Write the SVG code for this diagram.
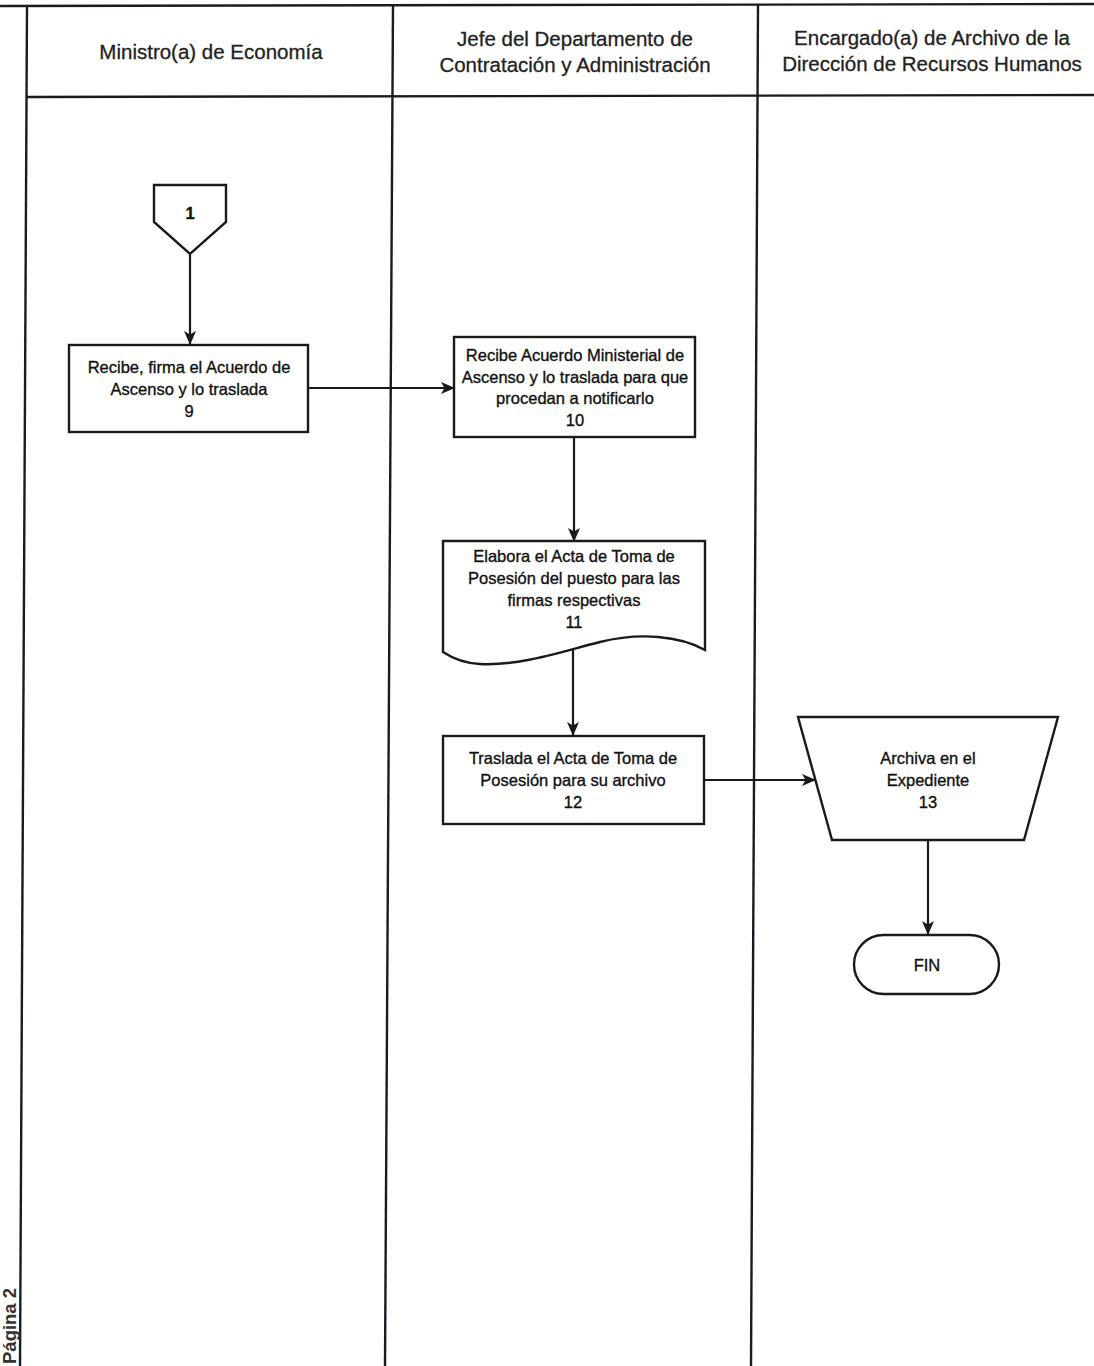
<svg xmlns="http://www.w3.org/2000/svg" width="1094" height="1366" viewBox="0 0 1094 1366">
  <style>
    .frame { stroke: #1a1a22; stroke-width: 2.4; fill: none; }
    .shape { stroke: #1a1a1a; stroke-width: 2.4; fill: #ffffff; }
    .edge { stroke: #1a1a1a; stroke-width: 2.2; fill: none; marker-end: url(#arrow); }
    .hdr { font-family: "Liberation Sans", Arial, sans-serif; font-size: 20.5px; fill: #222; stroke: #222; stroke-width: 0.3; text-anchor: middle; }
    .lbl { font-family: "Liberation Sans", Arial, sans-serif; font-size: 16.5px; fill: #111; stroke: #111; stroke-width: 0.35; text-anchor: middle; }
  </style>
  <defs>
    <marker id="arrow" viewBox="0 0 14 12" refX="13" refY="6" markerWidth="14" markerHeight="12" markerUnits="userSpaceOnUse" orient="auto">
      <path d="M0,0 L14,6 L0,12 L3.5,6 Z" fill="#1a1a1a"/>
    </marker>
  </defs>

  <rect width="1094" height="1366" fill="#ffffff"/>

  <!-- swimlane frame -->
  <g id="lanes">
    <line class="frame" x1="0" y1="6" x2="1094" y2="4"/>
    <line class="frame" x1="27" y1="97" x2="1094" y2="95"/>
    <line class="frame" x1="27" y1="6" x2="20" y2="1366"/>
    <line class="frame" x1="393" y1="5" x2="385" y2="1366"/>
    <line class="frame" x1="758" y1="5" x2="751" y2="1366"/>
    <text class="hdr" x="211" y="59">Ministro(a) de Economía</text>
    <text class="hdr" x="575" y="46">Jefe del Departamento de</text>
    <text class="hdr" x="575" y="72">Contratación y Administración</text>
    <text class="hdr" x="932" y="45">Encargado(a) de Archivo de la</text>
    <text class="hdr" x="932" y="71">Dirección de Recursos Humanos</text>
    <text x="0" y="0" transform="translate(16,1364) rotate(-90)" font-family="Liberation Sans, Arial, sans-serif" font-size="18.5" font-weight="bold" fill="#333">Página 2</text>
  </g>

  <!-- connectors -->
  <g id="connectors">
    <line class="edge" x1="190" y1="255" x2="190" y2="344"/>
    <line class="edge" x1="308" y1="388" x2="454" y2="388"/>
    <line class="edge" x1="574" y1="437" x2="574" y2="541"/>
    <line class="edge" x1="573" y1="650" x2="573" y2="735"/>
    <line class="edge" x1="704" y1="780" x2="815" y2="780"/>
    <line class="edge" x1="928" y1="840" x2="928" y2="934"/>
  </g>

  <g id="node-conn1">
    <path class="shape" d="M154,185 H226 V222 L190,254 L154,222 Z"/>
    <text class="lbl" x="190" y="219" font-weight="bold">1</text>
  </g>

  <g id="node-9">
    <rect class="shape" x="69" y="345" width="239" height="87"/>
    <text class="lbl" x="189" y="373">Recibe, firma el Acuerdo de</text>
    <text class="lbl" x="189" y="395">Ascenso y lo traslada</text>
    <text class="lbl" x="189" y="417">9</text>
  </g>

  <g id="node-10">
    <rect class="shape" x="454" y="337" width="241" height="100"/>
    <text class="lbl" x="575" y="361">Recibe Acuerdo Ministerial de</text>
    <text class="lbl" x="575" y="383">Ascenso y lo traslada para que</text>
    <text class="lbl" x="575" y="404">procedan a notificarlo</text>
    <text class="lbl" x="575" y="426">10</text>
  </g>

  <g id="node-11">
    <path class="shape" d="M443,541 H705 V650 C680,636 640,632 600,642 C560,652 520,666 480,664 C462,663 452,658 443,652 Z"/>
    <text class="lbl" x="574" y="562">Elabora el Acta de Toma de</text>
    <text class="lbl" x="574" y="584">Posesión del puesto para las</text>
    <text class="lbl" x="574" y="606">firmas respectivas</text>
    <text class="lbl" x="574" y="628">11</text>
  </g>

  <g id="node-12">
    <rect class="shape" x="443" y="736" width="261" height="88"/>
    <text class="lbl" x="573" y="764">Traslada el Acta de Toma de</text>
    <text class="lbl" x="573" y="786">Posesión para su archivo</text>
    <text class="lbl" x="573" y="808">12</text>
  </g>

  <g id="node-13">
    <path class="shape" d="M798,717 H1058 L1024,840 H832 Z"/>
    <text class="lbl" x="928" y="764">Archiva en el</text>
    <text class="lbl" x="928" y="786">Expediente</text>
    <text class="lbl" x="928" y="808">13</text>
  </g>

  <g id="node-fin">
    <rect class="shape" x="854" y="935" width="145" height="59" rx="29.5"/>
    <text class="lbl" x="927" y="971">FIN</text>
  </g>
</svg>
